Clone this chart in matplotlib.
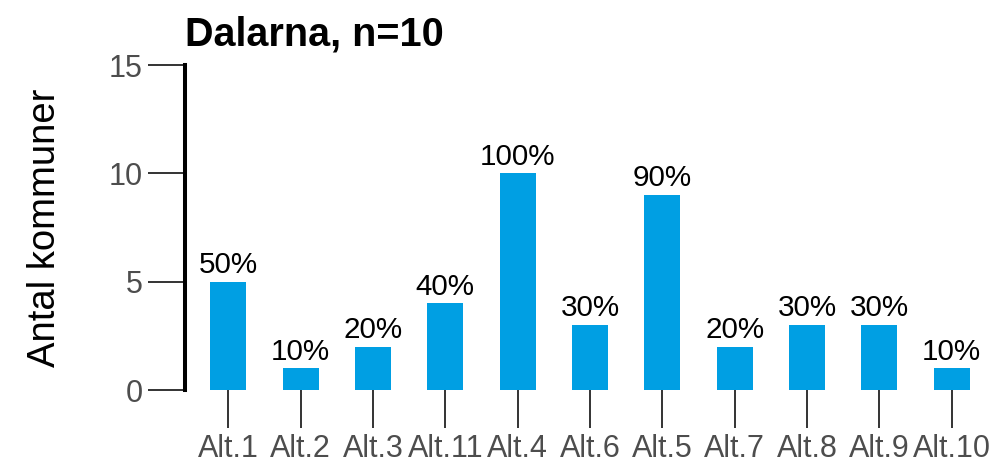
import matplotlib.pyplot as plt

plt.rcParams['font.family'] = ['Liberation Sans', 'DejaVu Sans']

kategorier = ['Alt.1', 'Alt.2', 'Alt.3', 'Alt.11', 'Alt.4', 'Alt.6', 'Alt.5', 'Alt.7', 'Alt.8', 'Alt.9', 'Alt.10']
antal = [5, 1, 2, 4, 10, 3, 9, 2, 3, 3, 1]
procent = ['50%', '10%', '20%', '40%', '100%', '30%', '90%', '20%', '30%', '30%', '10%']
yticks = [0, 5, 10, 15]

fig = plt.figure(figsize=(10.02, 4.66), dpi=100)
ax = fig.add_axes([0.1846, 0.163, 0.8084, 0.6975])

x = list(range(len(kategorier)))
ax.bar(x, antal, width=0.5, color='#009FE3')
for i in range(len(x)):
    ax.text(x[i], antal[i] + 0.12, procent[i], ha='center', va='bottom', fontsize=21.3, color='black')

ax.set_xlim(-0.6, len(x) - 0.4)
ax.set_ylim(0, 15)
ax.set_yticks(yticks)
ax.set_xticks(x)
ax.set_xticklabels(kategorier)

for s in ['top', 'right', 'bottom']:
    ax.spines[s].set_visible(False)
ax.spines['left'].set_linewidth(2.9)
ax.spines['left'].set_color('black')

ax.tick_params(axis='y', length=26.6, width=1.4, color='#333333', labelsize=22, labelcolor='#4d4d4d', pad=4)
ax.tick_params(axis='x', length=27, width=1.4, color='#333333', labelsize=22, labelcolor='#4d4d4d', pad=5)

ax.set_ylabel('Antal kommuner', fontsize=27.5, color='black', labelpad=33)
ax.set_title('Dalarna, n=10', loc='left', fontsize=28.5, fontweight='bold', pad=14)

fig.savefig('out.png', dpi=100)
